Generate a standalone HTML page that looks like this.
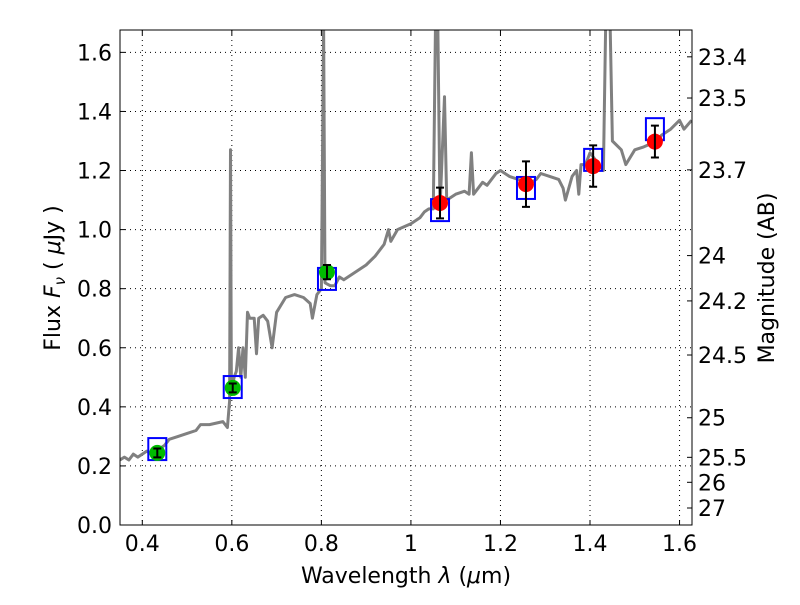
<!DOCTYPE html>
<html><head><meta charset="utf-8"><style>
body{margin:0;background:#fff}
svg text{font-family:"DejaVu Sans","Liberation Sans",sans-serif;fill:#000}
</style></head><body>
<svg id="chart" width="800" height="600" xmlns="http://www.w3.org/2000/svg">
<rect width="800" height="600" fill="#fff"/>
<defs><clipPath id="clip"><rect x="120" y="30" width="572" height="495"/></clipPath></defs>
<g id="grid"></g>
<g id="spec" clip-path="url(#clip)"></g>
<g id="marks"></g>
<rect x="120" y="30" width="572" height="495" fill="none" stroke="#000" stroke-width="1"/>
<g id="axes"></g>
<text x="406" y="583" font-size="22" text-anchor="middle">Wavelength  <tspan font-style="italic">λ</tspan> (<tspan font-style="italic">μ</tspan>m)</text>
<text transform="translate(60,278) rotate(-90)" font-size="22" text-anchor="middle">Flux  <tspan font-style="italic">F</tspan><tspan font-style="italic" font-size="15" dy="5">ν</tspan><tspan dy="-5">  ( </tspan><tspan font-style="italic">μ</tspan>Jy )</text>
<text transform="translate(774,278) rotate(-90)" font-size="22" text-anchor="middle">Magnitude (AB)</text>
</svg>
<script>
const xTicks=[0.4,0.6,0.8,1.0,1.2,1.4,1.6];
const xTickLabels=["0.4","0.6","0.8","1","1.2","1.4","1.6"];
const yTicks=[0,0.2,0.4,0.6,0.8,1.0,1.2,1.4,1.6];
const yTickLabels=["0.0","0.2","0.4","0.6","0.8","1.0","1.2","1.4","1.6"];
const magTicks=[23.4,23.5,23.7,24,24.2,24.5,25,25.5,26,27];
const magLabels=["23.4","23.5","23.7","24","24.2","24.5","25","25.5","26","27"];
const specLambda=[0.35,0.36,0.37,0.38,0.39,0.40,0.41,0.42,0.43,0.44,0.45,0.46,0.48,0.50,0.52,0.53,0.55,0.58,0.59,0.595,0.597,0.599,0.605,0.61,0.615,0.62,0.625,0.63,0.635,0.64,0.65,0.655,0.66,0.67,0.68,0.69,0.70,0.72,0.74,0.76,0.775,0.78,0.79,0.80,0.805,0.808,0.82,0.83,0.84,0.85,0.87,0.9,0.92,0.94,0.95,0.955,0.97,1.0,1.02,1.03,1.04,1.05,1.055,1.06,1.065,1.075,1.08,1.1,1.12,1.13,1.135,1.14,1.16,1.17,1.19,1.2,1.22,1.24,1.26,1.28,1.29,1.31,1.33,1.34,1.345,1.36,1.37,1.375,1.38,1.39,1.4,1.42,1.43,1.435,1.445,1.45,1.47,1.48,1.5,1.52,1.55,1.56,1.58,1.6,1.61,1.627];
const specFlux=[0.22,0.23,0.22,0.24,0.23,0.24,0.25,0.24,0.25,0.26,0.27,0.29,0.30,0.31,0.32,0.34,0.34,0.35,0.33,0.42,1.27,0.45,0.50,0.52,0.60,0.50,0.60,0.50,0.72,0.70,0.70,0.58,0.70,0.71,0.69,0.60,0.72,0.77,0.78,0.77,0.75,0.70,0.78,0.80,1.70,0.82,0.81,0.81,0.84,0.83,0.85,0.88,0.91,0.95,1.00,0.96,1.00,1.02,1.04,1.06,1.07,1.07,1.70,1.70,1.07,1.45,1.10,1.12,1.13,1.12,1.26,1.12,1.16,1.15,1.19,1.20,1.18,1.17,1.15,1.17,1.19,1.18,1.17,1.14,1.10,1.18,1.20,1.12,1.22,1.22,1.26,1.22,1.20,1.70,1.70,1.30,1.27,1.22,1.27,1.28,1.30,1.32,1.34,1.37,1.34,1.37];
const photLambda=[0.4335,0.602,0.8125,1.065,1.257,1.407,1.545];
const photFlux=[0.244,0.464,0.856,1.09,1.154,1.215,1.298];
const photErr=[0.015,0.015,0.024,0.052,0.077,0.07,0.054];
const modelFlux=[0.257,0.467,0.833,1.066,1.141,1.236,1.34];
const photColor=["#00bb00","#00bb00","#00bb00","#ff0000","#ff0000","#ff0000","#ff0000"];
const X=v=>142.3+(v-0.4)*447.7, Y=v=>525-v*295.4;
const NS="http://www.w3.org/2000/svg";
function mk(tag,attrs,parent){const e=document.createElementNS(NS,tag);for(const k in attrs)e.setAttribute(k,attrs[k]);parent.appendChild(e);return e;}
const grid=document.getElementById('grid'),axes=document.getElementById('axes'),spec=document.getElementById('spec'),marks=document.getElementById('marks');
xTicks.forEach((t,i)=>{const x=X(t);
 const g=mk('line',{x1:x,x2:x,y1:30,y2:525,stroke:'#000','stroke-dasharray':'1,4','stroke-width':1},grid);
 
 mk('line',{x1:x,x2:x,y1:525,y2:520,stroke:'#000'},axes);mk('line',{x1:x,x2:x,y1:30,y2:35,stroke:'#000'},axes);
 const tx=mk('text',{x:x,y:551,'font-size':22,'text-anchor':'middle'},axes);tx.textContent=xTickLabels[i];
 });
yTicks.forEach((t,i)=>{const y=Y(t);
 const g=mk('line',{x1:120,x2:692,y1:y,y2:y,stroke:'#000','stroke-dasharray':'1,4','stroke-width':1},grid);
 
 mk('line',{x1:120,x2:125,y1:y,y2:y,stroke:'#000'},axes);
 const tx=mk('text',{x:112,y:y+8,'font-size':22,'text-anchor':'end'},axes);tx.textContent=yTickLabels[i];
 });
magTicks.forEach((m,i)=>{const f=Math.pow(10,(23.9-m)/2.5);const y=Y(f);
 mk('line',{x1:692,x2:687,y1:y,y2:y,stroke:'#000'},axes);
 const tx=mk('text',{x:698,y:y+8,'font-size':22},axes);tx.textContent=magLabels[i];
 });
const pts=specLambda.map((l,i)=>X(l).toFixed(1)+','+Y(specFlux[i]).toFixed(1)).join(' ');
const pl=mk('polyline',{points:pts,fill:'none',stroke:'#808080','stroke-width':3,'stroke-linejoin':'round'},spec);

photLambda.forEach((l,i)=>{const x=X(l);
 const b=mk('rect',{x:x-9,y:Y(modelFlux[i])-11,width:18,height:22,fill:'none',stroke:'#0000ff','stroke-width':2},marks);
 
 const c=mk('circle',{cx:x,cy:Y(photFlux[i]),r:8,fill:photColor[i]},marks);
 
 const y1=Y(photFlux[i]+photErr[i]),y2=Y(photFlux[i]-photErr[i]);
 const e=mk('path',{d:`M${x},${y1}V${y2}M${x-4},${y1}H${x+4}M${x-4},${y2}H${x+4}`,stroke:'#000','stroke-width':2,fill:'none'},marks);
 });
</script>
</body></html>
